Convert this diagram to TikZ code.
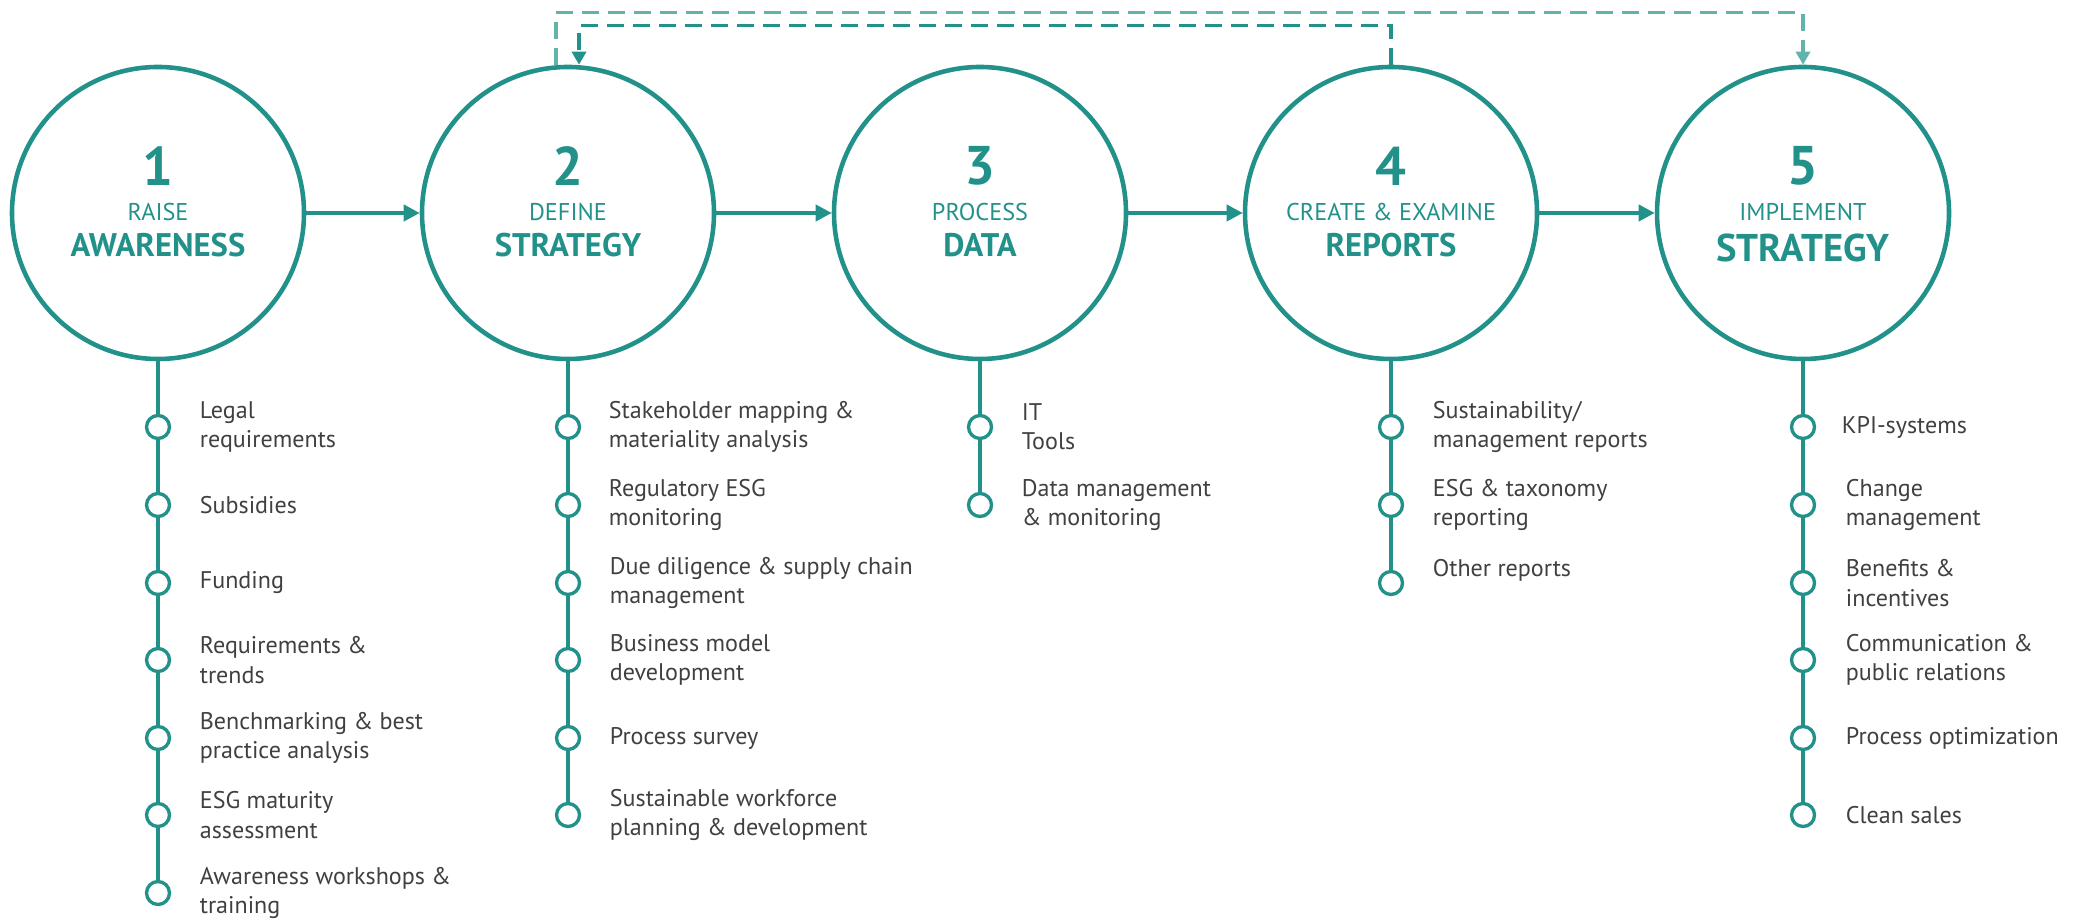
\documentclass[tikz,border=0pt]{standalone}
\usepackage{fontspec}
\setmainfont{PT Sans}
\usetikzlibrary{arrows.meta,positioning,calc}
\definecolor{esgteal}{HTML}{21918A}
\definecolor{esglight}{HTML}{62B3AC}
\definecolor{esgtext}{HTML}{404040}

\tikzset{
  phase/.style={circle,draw=esgteal,line width=1.3pt,minimum size=2.92cm,inner sep=0pt},
  dot/.style={circle,draw=esgteal,line width=0.95pt,fill=white,minimum size=0.23cm,inner sep=0pt},
  item/.style={align=left,inner sep=0pt,text=esgtext,font=\fontsize{6.85}{8.3}\selectfont},
  num/.style={text=esgteal,font=\fontsize{15.5}{16}\selectfont\bfseries,inner sep=0pt},
  sub/.style={text=esgteal,font=\fontsize{6.9}{8}\selectfont,inner sep=0pt},
  head/.style={text=esgteal,font=\fontsize{9.3}{10}\selectfont\bfseries,inner sep=0pt},
  flow/.style={-{Triangle[length=0.16cm,width=0.16cm]},draw=esgteal,line width=1.1pt},
  stem/.style={draw=esgteal,line width=0.9pt},
  back/.style={-{Triangle[length=0.13cm,width=0.14cm]},line width=0.95pt,dash pattern=on 4.8pt off 2.6pt},
}

\begin{document}
\begin{tikzpicture}
\useasboundingbox (0,0) rectangle (20.91,9.21);

% Phase circles
\node[phase] (c1) at (1.58,7.08) {};
\node[phase] (c2) at (5.68,7.08) {};
\node[phase] (c3) at (9.80,7.08) {};
\node[phase] (c4) at (13.91,7.08) {};
\node[phase] (c5) at (18.03,7.08) {};

% Titles
\node[num] (n1) at (1.58,7.55) {1};
\node[sub] (s1) at (1.58,7.09) {RAISE};
\node[head] (h1) at (1.58,6.76) {AWARENESS};
\node[num] (n2) at (5.68,7.55) {2};
\node[sub] (s2) at (5.68,7.09) {DEFINE};
\node[head] (h2) at (5.68,6.76) {STRATEGY};
\node[num] (n3) at (9.80,7.55) {3};
\node[sub] (s3) at (9.80,7.09) {PROCESS};
\node[head] (h3) at (9.80,6.76) {DATA};
\node[num] (n4) at (13.91,7.55) {4};
\node[sub] (s4) at (13.91,7.09) {CREATE \& EXAMINE};
\node[head] (h4) at (13.91,6.76) {REPORTS};
\node[num] (n5) at (18.03,7.55) {5};
\node[sub] (s5) at (18.03,7.09) {IMPLEMENT};
\node[head,font=\fontsize{11}{12}\selectfont\bfseries] (h5) at (18.03,6.73) {STRATEGY};

% Flow between phases
\draw[flow] (c1) -- (c2);
\draw[flow] (c2) -- (c3);
\draw[flow] (c3) -- (c4);
\draw[flow] (c4) -- (c5);

% Feedback loops
\draw[back,esglight] ([xshift=-0.12cm]c2.north) -- ++(0,0.52) -| (c5.north);
\draw[back,esgteal] (c4.north) -- ++(0,0.39) -| ([xshift=0.11cm]c2.north);

% Raise awareness
\node[dot] (a1) at (1.58,4.94) {};
\node[dot] (a2) at (1.58,4.16) {};
\node[dot] (a3) at (1.58,3.38) {};
\node[dot] (a4) at (1.58,2.61) {};
\node[dot] (a5) at (1.58,1.83) {};
\node[dot] (a6) at (1.58,1.06) {};
\node[dot] (a7) at (1.58,0.28) {};
\draw[stem] (c1) -- (a1) -- (a2) -- (a3) -- (a4) -- (a5) -- (a6) -- (a7);
\node[item,right=0.28cm of a1] (ta1) {Legal\\requirements};
\node[item,right=0.28cm of a2] (ta2) {Subsidies};
\node[item,right=0.28cm of a3] (ta3) {Funding};
\node[item,right=0.28cm of a4] (ta4) {Requirements \&\\trends};
\node[item,right=0.28cm of a5] (ta5) {Benchmarking \& best\\practice analysis};
\node[item,right=0.28cm of a6] (ta6) {ESG maturity\\assessment};
\node[item,right=0.28cm of a7] (ta7) {Awareness workshops \&\\training};

% Define strategy
\node[dot] (b1) at (5.68,4.94) {};
\node[dot] (b2) at (5.68,4.16) {};
\node[dot] (b3) at (5.68,3.38) {};
\node[dot] (b4) at (5.68,2.61) {};
\node[dot] (b5) at (5.68,1.83) {};
\node[dot] (b6) at (5.68,1.06) {};
\draw[stem] (c2) -- (b1) -- (b2) -- (b3) -- (b4) -- (b5) -- (b6);
\node[item,right=0.27cm of b1] (tb1) {Stakeholder mapping \&\\materiality analysis};
\node[item,right=0.27cm of b2] (tb2) {Regulatory ESG\\monitoring};
\node[item,right=0.28cm of b3] (tb3) {Due diligence \& supply chain\\management};
\node[item,right=0.28cm of b4] (tb4) {Business model\\development};
\node[item,right=0.28cm of b5] (tb5) {Process survey};
\node[item,right=0.28cm of b6] (tb6) {Sustainable workforce\\planning \& development};

% Process data
\node[dot] (d1) at (9.80,4.94) {};
\node[dot] (d2) at (9.80,4.16) {};
\draw[stem] (c3) -- (d1) -- (d2);
\node[item,right=0.28cm of d1] (td1) {IT\\Tools};
\node[item,right=0.28cm of d2] (td2) {Data management\\\& monitoring};

% Create & examine reports
\node[dot] (r1) at (13.91,4.94) {};
\node[dot] (r2) at (13.91,4.16) {};
\node[dot] (r3) at (13.91,3.38) {};
\draw[stem] (c4) -- (r1) -- (r2) -- (r3);
\node[item,right=0.28cm of r1] (tr1) {Sustainability/\\management reports};
\node[item,right=0.28cm of r2] (tr2) {ESG \& taxonomy\\reporting};
\node[item,right=0.28cm of r3,yshift=0.13cm] (tr3) {Other reports};

% Implement strategy
\node[dot] (m1) at (18.03,4.94) {};
\node[dot] (m2) at (18.03,4.16) {};
\node[dot] (m3) at (18.03,3.38) {};
\node[dot] (m4) at (18.03,2.61) {};
\node[dot] (m5) at (18.03,1.83) {};
\node[dot] (m6) at (18.03,1.06) {};
\draw[stem] (c5) -- (m1) -- (m2) -- (m3) -- (m4) -- (m5) -- (m6);
\node[item,right=0.25cm of m1] (tm1) {KPI-systems};
\node[item,right=0.29cm of m2] (tm2) {Change\\management};
\node[item,right=0.29cm of m3] (tm3) {Benefits \&\\incentives};
\node[item,right=0.29cm of m4] (tm4) {Communication \&\\public relations};
\node[item,right=0.29cm of m5] (tm5) {Process optimization};
\node[item,right=0.29cm of m6] (tm6) {Clean sales};

\end{tikzpicture}
\end{document}
